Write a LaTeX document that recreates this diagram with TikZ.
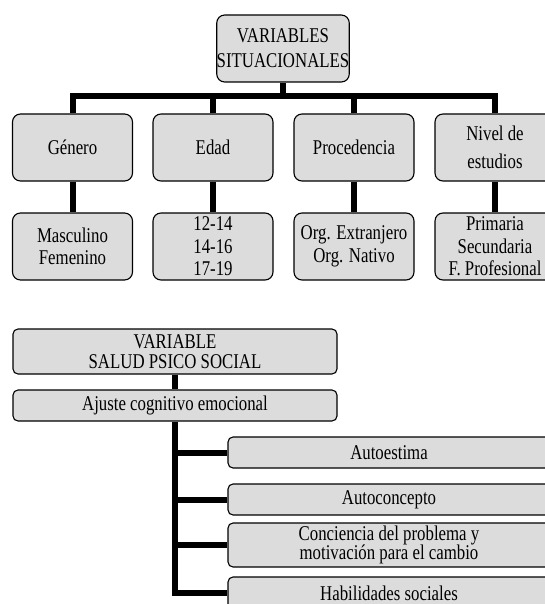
\documentclass[tikz,border=0pt]{standalone}
\usepackage{fontspec}
\setmainfont[FakeStretch=0.8]{Liberation Serif}
\definecolor{boxfill}{RGB}{220,220,220}
\begin{document}
\begin{tikzpicture}[x=1pt,y=-1pt,
  box/.style={draw=black, line width=1.1pt, fill=boxfill, rounded corners=8pt,
    align=center, inner sep=0pt, font=\fontsize{21}{22.5}\selectfont},
  lbox/.style={box, rounded corners=5pt, font=\fontsize{21}{19.5}\selectfont},
  conn/.style={line width=6pt, line join=miter}]
\useasboundingbox (0,0) rectangle (545,604);
\clip (0,0) rectangle (545,604);
% top section
\node[box, minimum width=120pt, minimum height=67pt] (top) at (283,48.5) {VARIABLES\\[2.5pt]SITUACIONALES};
\node[box, minimum width=120pt, minimum height=67pt] (gen) at (72.5,147.5) {Género};
\node[box, minimum width=120pt, minimum height=67pt] (eda) at (213,147.5) {Edad};
\node[box, minimum width=120pt, minimum height=67pt] (pro) at (354,147.5) {Procedencia};
\node[box, minimum width=120pt, minimum height=67pt] (niv) at (495,147.5) {Nivel de\\[5.5pt]estudios};
\node[box, minimum width=120pt, minimum height=67pt] (gen2) at (72.5,246.5) {Masculino\\Femenino};
\node[box, minimum width=120pt, minimum height=67pt] (eda2) at (213,246.5) {12-14\\14-16\\17-19};
\node[box, minimum width=120pt, minimum height=67pt] (pro2) at (354,246.5) {Org. Extranjero\\Org. Nativo};
\node[box, minimum width=120pt, minimum height=67pt] (niv2) at (495,246.5) {Primaria\\Secundaria\\F. Profesional};
\coordinate (by) at (0,96);
\draw[conn] (top.south) -- (top.south |- by);
\draw[conn] (gen.north) -- (gen.north |- by) -- (niv.north |- by) -- (niv.north);
\draw[conn] (eda.north) -- (eda.north |- by);
\draw[conn] (pro.north) -- (pro.north |- by);
\draw[conn] (gen.south) -- (gen2.north);
\draw[conn] (eda.south) -- (eda2.north);
\draw[conn] (pro.south) -- (pro2.north);
\draw[conn] (niv.south) -- (niv2.north);
% bottom section
\node[lbox, minimum width=324pt, minimum height=45pt] (var) at (175,351.5) {VARIABLE\\SALUD PSICO SOCIAL};
\node[lbox, minimum width=324pt, minimum height=31pt] (aju) at (175,405.5) {Ajuste cognitivo emocional};
\node[lbox, minimum width=322pt, minimum height=31pt] (aes) at (389,452.5) {Autoestima};
\node[lbox, minimum width=322pt, minimum height=31pt] (aco) at (389,499.5) {Autoconcepto};
\node[lbox, minimum width=322pt, minimum height=44pt] (con) at (389,545) {Conciencia del problema y\\motivación para el cambio};
\node[lbox, minimum width=322pt, minimum height=32pt] (hab) at (389,593) {Habilidades sociales};
\draw[conn] (var.south) -- (aju.north);
\draw[conn] (aju.south) |- (hab.west);
\draw[conn] (aju.south |- aes.west) -- (aes.west);
\draw[conn] (aju.south |- aco.west) -- (aco.west);
\draw[conn] (aju.south |- con.west) -- (con.west);
\end{tikzpicture}
\end{document}
